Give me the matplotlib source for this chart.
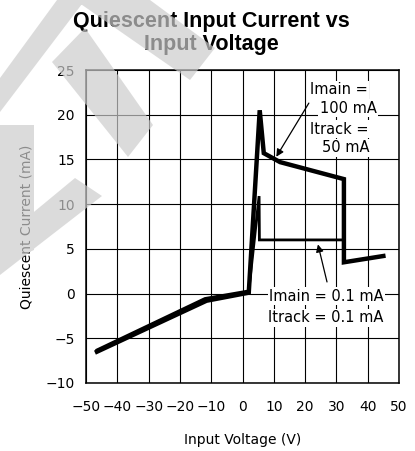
import matplotlib
matplotlib.use('Agg')

import matplotlib.pyplot as plt
from matplotlib.path import Path
from matplotlib.patches import PathPatch

# Imain = 100 mA, Itrack = 50 mA
v_high = [-46.5, -11.5, 2.0, 5.5, 6.8, 12.0, 32.4, 32.4, 45.0]
i_high = [-6.5, -0.8, 0.1, 20.5, 15.7, 14.7, 12.8, 3.5, 4.2]

# Imain = 0.1 mA, Itrack = 0.1 mA
v_low = [-46.5, -12.0, 2.0, 5.3, 5.4, 32.3, 32.3, 45.0]
i_low = [-6.3, -0.55, 0.3, 10.9, 6.0, 6.0, 3.5, 4.2]

x_ticks = [-50, -40, -30, -20, -10, 0, 10, 20, 30, 40, 50]
y_ticks = [-10, -5, 0, 5, 10, 15, 20, 25]

W, H = 415, 451
fig = plt.figure(figsize=(W / 100, H / 100), dpi=100, facecolor='white')
ax = fig.add_axes([86 / W, 1 - 383 / H, (399 - 86) / W, (383 - 70) / H])

ax.set_xlim(-50, 50)
ax.set_ylim(-10, 25)
ax.set_xticks(x_ticks)
ax.set_yticks(y_ticks)
ax.grid(True, color='black', linewidth=0.8)
ax.set_axisbelow(True)
for s in ax.spines.values():
    s.set_linewidth(1.1)
ax.tick_params(axis='both', length=0, labelsize=10)
ax.tick_params(axis='x', pad=12)
ax.tick_params(axis='y', pad=8)

ax.plot(v_low, i_low, color='black', linewidth=2.0, solid_joinstyle='miter', zorder=3)
ax.plot(v_high, i_high, color='black', linewidth=3.2, solid_joinstyle='miter', zorder=3)

ax.set_xlabel('Input Voltage (V)', fontsize=10, labelpad=14)
ax.set_ylabel('Quiescent Current (mA)', fontsize=10, labelpad=9)

box = dict(facecolor='white', edgecolor='none', pad=1)
fs = 10.5
ax.text(21.5, 22.8, 'Imain =', fontsize=fs, ha='left', va='center', bbox=box, zorder=4)
ax.text(24.7, 20.7, '100 mA', fontsize=fs, ha='left', va='center', bbox=box, zorder=4)
ax.text(21.5, 18.4, 'Itrack =', fontsize=fs, ha='left', va='center', bbox=box, zorder=4)
ax.text(25.3, 16.3, '50 mA', fontsize=fs, ha='left', va='center', bbox=box, zorder=4)
ax.text(8.5, -0.3, 'Imain = 0.1 mA', fontsize=fs, ha='left', va='center', bbox=box, zorder=4)
ax.text(8.0, -2.7, 'Itrack = 0.1 mA', fontsize=fs, ha='left', va='center', bbox=box, zorder=4)

arrow = dict(arrowstyle='-|>', color='black', lw=0.9, mutation_scale=11, shrinkA=0, shrinkB=0)
ax.annotate('', xy=(10.8, 15.3), xytext=(21.2, 21.3), arrowprops=arrow, zorder=5)
ax.annotate('', xy=(24.1, 5.5), xytext=(27.0, 1.3), arrowprops=arrow, zorder=5)

fig.text(211 / W, 1 - 11 / H, 'Quiescent Input Current vs\nInput Voltage',
         ha='center', va='top', fontsize=15.5, fontweight='bold',
         family='Liberation Sans', linespacing=1.15)

# light grey watermark over the left side (pixel coords, y down)
shapes = [
    [(57, 0), (85, 0), (0, 112), (0, 78)],
    [(52, 62), (85, 28), (153, 125), (128, 157)],
    [(75, 0), (150, 0), (215, 48), (190, 80)],
    [(75, 178), (102, 196), (0, 275), (0, 240)],
    [(0, 125), (34, 125), (34, 250), (0, 265)],
]
verts, codes = [], []
for poly in shapes:
    area = sum(x0 * y1 - x1 * y0 for (x0, y0), (x1, y1) in zip(poly, poly[1:] + poly[:1]))
    if area < 0:
        poly = poly[::-1]
    pts = [(x / W, 1 - y / H) for x, y in poly]
    verts += pts + [pts[0]]
    codes += [Path.MOVETO] + [Path.LINETO] * (len(pts) - 1) + [Path.CLOSEPOLY]
fig.patches.append(PathPatch(Path(verts, codes), transform=fig.transFigure,
                             facecolor='#cccccc', edgecolor='none', alpha=0.69, zorder=10))

fig.savefig('out.png', dpi=100, facecolor='white')
